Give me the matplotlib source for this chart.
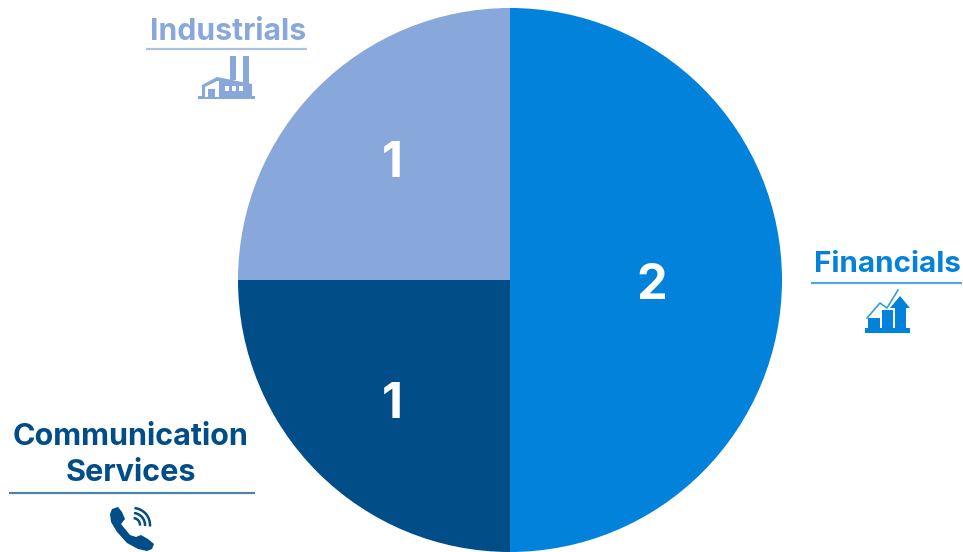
import matplotlib
matplotlib.use('Agg')
import matplotlib.pyplot as plt
from matplotlib.patches import Polygon, Rectangle, Arc, Ellipse

# Sector counts, clockwise from 12 o'clock
sectors = ['Financials', 'Communication\nServices', 'Industrials']
counts = [2, 1, 1]
colors = ['#0382DC', '#004D88', '#88A8DB']

W, H = 963, 552
plt.rcParams['font.family'] = ['Inter', 'DejaVu Sans']


def Y(y):
    # pixel rows run downward, the axes run upward
    return H - y


fig = plt.figure(figsize=(W / 100, H / 100), dpi=100, facecolor='white')
ax = fig.add_axes([0, 0, 1, 1])

wedges, _ = ax.pie(counts, colors=colors, startangle=90, counterclock=False,
                   center=(510, Y(280)), radius=272,
                   wedgeprops=dict(linewidth=0))
ax.set_xlim(0, W)
ax.set_ylim(0, H)
ax.set_aspect('equal')
ax.axis('off')

# Counts inside the slices
count_pos = [(652, 286), (392, 405), (392, 164)]
for n, (x, y) in zip(counts, count_pos):
    ax.text(x, Y(y), str(n), color='white', fontsize=35, fontweight='bold',
            ha='center', va='center')


def poly(points, color, z=3):
    ax.add_patch(Polygon([(x, Y(y)) for x, y in points], closed=True,
                         facecolor=color, edgecolor='none', zorder=z))


def rect(x0, y0, x1, y1, color, z=3):
    ax.add_patch(Rectangle((x0, Y(y1)), x1 - x0, y1 - y0, facecolor=color,
                           edgecolor='none', zorder=z))


# Sector headings with their rules
label_pos = [(887, 265), (131, 455), (228, 32)]
rule_pos = [(811, 962, 283), (9, 255, 493), (146, 307, 49)]
label_size = [21.3, 22, 21.7]
for name, col, (x, y), (x0, x1, ry), fs in zip(sectors, colors, label_pos, rule_pos, label_size):
    ax.text(x, Y(y), name, color=col, fontsize=fs, fontweight='bold',
            ha='center', va='center', linespacing=1.39)
    ax.plot([x0, x1], [Y(ry), Y(ry)], color=col, lw=1.6, alpha=0.7,
            solid_capstyle='butt')

# Factory icon
c = colors[2]
rect(198, 96, 255, 99, c)
rect(230, 56, 236, 80, c)
rect(243, 56, 249, 97, c)
poly([(202, 97), (202, 85), (217, 77), (252, 84), (252, 97)], c)
poly([(205, 97), (205, 87), (217, 81), (219, 81), (219, 97)], 'white', 4)
rect(208, 89, 215, 97, c, 5)
for x0 in (225, 232, 239):
    rect(x0, 86, x0 + 4, 91, 'white', 4)

# Bars-and-arrow icon
c = colors[0]
rect(865, 328, 910, 333, c)
rect(868, 318, 880, 328, c)
rect(882, 310, 893, 328, c)
rect(895, 307, 906, 328, c)
poly([(890, 308), (900, 296), (910, 308)], c)
ax.plot([867, 880, 887, 898], [Y(318), Y(303), Y(308), Y(290)], color=c, lw=1.2, alpha=0.8)

# Telephone icon
c = colors[1]
handset = [(110, 514), (112, 509), (118, 507), (122, 512), (125, 519),
           (121, 524), (130, 535), (136, 537), (141, 535), (148, 539),
           (154, 544), (152, 549), (147, 551), (138, 549), (127, 543),
           (117, 532), (111, 522)]
poly(handset, c)
for r in (7, 12, 17):
    ax.add_patch(Arc((133, Y(525)), 2 * r, 2 * r, theta1=-5, theta2=85,
                     color=c, lw=1.8, zorder=3))

fig.savefig('out.png', dpi=100, facecolor='white')
